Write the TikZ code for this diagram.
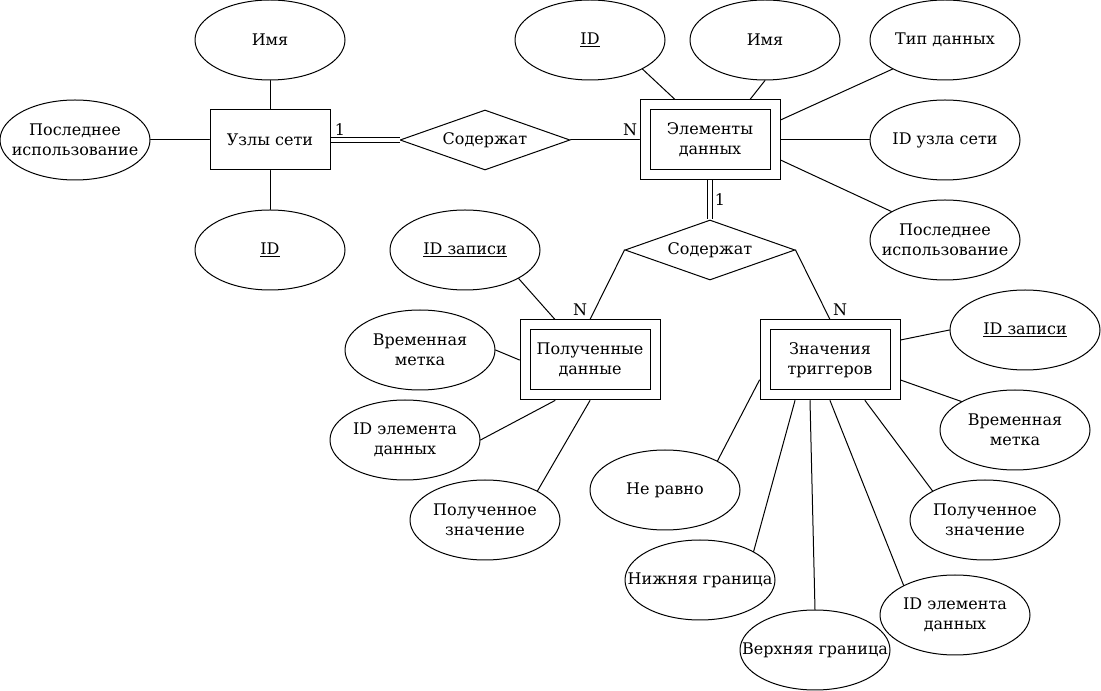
\documentclass[tikz,border=0pt]{standalone}
\usepackage{fontspec}
\setmainfont{DejaVu Serif}
\usetikzlibrary{shapes.geometric}
\begin{document}
\begin{tikzpicture}[x=0.75pt, y=-0.75pt, font=\fontsize{12}{15}\selectfont, line width=0.75pt, line join=round, line cap=round,
	attr/.style={draw, ellipse, minimum width=112.5pt, minimum height=60pt, inner xsep=-30pt, inner ysep=0pt, align=center},
	ent/.style={draw, rectangle, minimum width=90pt, minimum height=45pt, inner sep=0pt, align=center, line join=miter},
	weak/.style={draw, double, double distance=6.75pt, minimum width=97.5pt, minimum height=52.5pt, inner sep=0pt, outer sep=4.125pt, align=center, line join=miter},
	rel/.style={draw, diamond, aspect=2.83, minimum width=127.5pt, minimum height=45pt, inner sep=0pt, line join=miter},
	link/.style={double, double distance=2.5pt, line cap=butt}]
		\useasboundingbox (0,0) rectangle (1101,691);
		% Узлы сети
		\node[ent] (net) at (270,140) {Узлы сети};
		\node[attr] (netname) at (270,40) {Имя};
		\node[attr] (netlast) at (75,140) {Последнее\\использование};
		\node[attr] (netid) at (270,250) {\underline{ID}};
		\foreach \s in {netname,netlast,netid}
		\draw (net) -- (\s);
		% Элементы данных
		\node[rel] (has1) at (485,140) {Содержат};
		\node[weak] (elem) at (710,140) {Элементы\\данных};
		\node[attr] (elemid) at (590,40) {\underline{ID}};
		\node[attr] (elemname) at (765,40) {Имя};
		\node[attr] (elemtype) at (945,40) {Тип данных};
		\node[attr] (elemnet) at (945,140) {ID узла сети};
		\node[attr] (elemlast) at (945,240) {Последнее\\использование};
		\draw[link] (net.east) -- (has1.west);
		\draw (has1.east) -- (elem.west);
		\node (lbl1) at (340,130) {1};
		\node (lbl2) at (630,130) {N};
		\foreach \s/\b/\a/\dx/\dy in {elemid/-29/north/-26.25/0, elemname/south/north/30/0, elemtype/-151/east/0/15, elemnet/west/east/0/0, elemlast/152/east/0/-15}
		\draw (\s.\b) -- ([xshift=\dx pt, yshift=\dy pt]elem.\a);
		% Полученные данные и значения триггеров
		\node[rel] (has2) at (710,250) {Содержат};
		\node[weak] (rec) at (590,360) {Полученные\\данные};
		\node[weak] (trig) at (830,360) {Значения\\триггеров};
		\draw[link] (elem.south) -- (has2.north);
		\draw (has2.west) -- (rec.north);
		\draw (has2.east) -- (trig.north);
		\node (lbl3) at (720,200) {1};
		\node (lbl4) at (580,310) {N};
		\node (lbl5) at (840,310) {N};
		\node[attr] (recid) at (465,250) {\underline{ID записи}};
		\node[attr] (rectime) at (420,350) {Временная\\метка};
		\node[attr] (recelem) at (405,440) {ID элемента\\данных};
		\node[attr] (recval) at (485,520) {Полученное\\значение};
		\foreach \s/\b/\a/\dx/\dy in {recid/-28/north/-26.25/0, rectime/east/west/0/0, recelem/east/south/-26.25/0, recval/29/south/0/0}
		\draw (\s.\b) -- ([xshift=\dx pt, yshift=\dy pt]rec.\a);
		\node[attr] (trigid) at (1025,330) {\underline{ID записи}};
		\node[attr] (trigtime) at (1015,430) {Временная\\метка};
		\node[attr] (trigval) at (985,520) {Полученное\\значение};
		\node[attr] (trigelem) at (955,615) {ID элемента\\данных};
		\node[attr] (trigup) at (815,650) {Верхняя граница};
		\node[attr] (triglow) at (700,580) {Нижняя граница};
		\node[attr] (trigne) at (665,490) {Не равно};
		\foreach \s/\b/\a/\dx/\dy in {trigid/west/east/0/15, trigtime/152/east/0/-15, trigval/151/south/26.25/0, trigelem/150/south/0/0, trigup/north/south/-15/0, triglow/28/south/-26.25/0, trigne/29/west/0/-15}
		\draw (\s.\b) -- ([xshift=\dx pt, yshift=\dy pt]trig.\a);
\end{tikzpicture}
\end{document}
